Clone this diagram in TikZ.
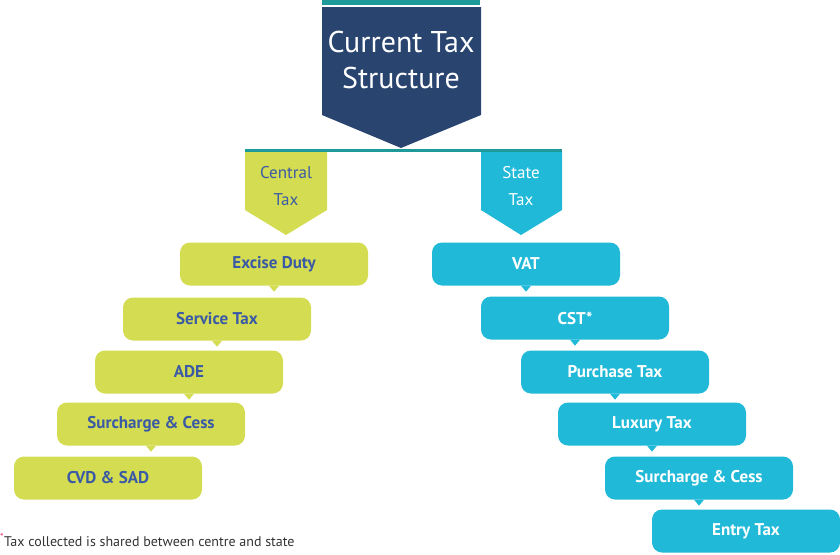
\documentclass[tikz,border=0pt]{standalone}
\usepackage{fontspec}
\setmainfont{PT Sans}
\usetikzlibrary{positioning}
\definecolor{navy}{HTML}{29446F}
\definecolor{teal}{HTML}{1E9A9A}
\definecolor{lime}{HTML}{D4DC52}
\definecolor{cyan}{HTML}{20B9D8}
\definecolor{inkblue}{HTML}{3A5AA5}
\definecolor{note}{HTML}{333333}
\definecolor{star}{HTML}{E0306A}
\tikzset{
    taxbox/.style={rounded corners=10pt, minimum width=188pt, minimum height=43pt,
        inner sep=0pt, font=\fontsize{17}{20}\selectfont\bfseries},
    centralbox/.style={taxbox, fill=lime, text=inkblue},
    statebox/.style={taxbox, fill=cyan, text=white},
}
\newcommand{\tip}[2]{\fill[#1] (#2.south) ++(-5pt,0) -- ++(10pt,0) -- ++(-5pt,-6pt) -- cycle;}
\begin{document}
\begin{tikzpicture}[x=1pt,y=-1pt]
\useasboundingbox (0,0) rectangle (840,554);
% heading
\fill[teal] (322,0) rectangle (480,5);
\fill[navy] (322,7) -- (481,7) -- (481,115) -- (401,148) -- (322,115) -- cycle;
\node (title) at (401,60) [text=white, align=center, font=\fontsize{30}{36}\selectfont] {Current Tax\\Structure};
\fill[teal] (245,149) rectangle (562,152);
% branches
\fill[lime] (245,152) -- (327,152) -- (327,210) -- (286,235) -- (245,210) -- cycle;
\fill[cyan] (481,152) -- (562,152) -- (562,210) -- (521,235) -- (481,210) -- cycle;
\node (central) at (286,186) [text=inkblue, align=center, font=\fontsize{17}{27}\selectfont] {Central\\Tax};
\node (state) at (521,186) [text=white, align=center, font=\fontsize{17}{27}\selectfont] {State\\Tax};
% central taxes
\node (excise) at (274,264) [centralbox] {Excise Duty};
\node (service) at (217,319) [centralbox] {Service Tax};
\node (ade) at (189,372) [centralbox] {ADE};
\node (surc) at (151,424) [centralbox] {Surcharge \& Cess};
\node (cvd) at (108,478) [centralbox] {CVD \& SAD};
\foreach \b in {excise,service,ade,surc} {\tip{lime}{\b}}
% state taxes
\node (vat) at (526,264) [statebox] {VAT};
\node (cst) at (575,318) [statebox] {CST*};
\node (purchase) at (615,372) [statebox] {Purchase Tax};
\node (luxury) at (652,424) [statebox] {Luxury Tax};
\node (surs) at (699,478) [statebox] {Surcharge \& Cess};
\node (entry) at (746,531) [statebox] {Entry Tax};
\foreach \b in {vat,cst,purchase,luxury,surs} {\tip{cyan}{\b}}
% footnote
\node (foot) at (0,540) [anchor=west, inner sep=0pt, text=note, font=\fontsize{14}{16}\selectfont]
    {\textsuperscript{\color{star}*}Tax collected is shared between centre and state};
\end{tikzpicture}
\end{document}
